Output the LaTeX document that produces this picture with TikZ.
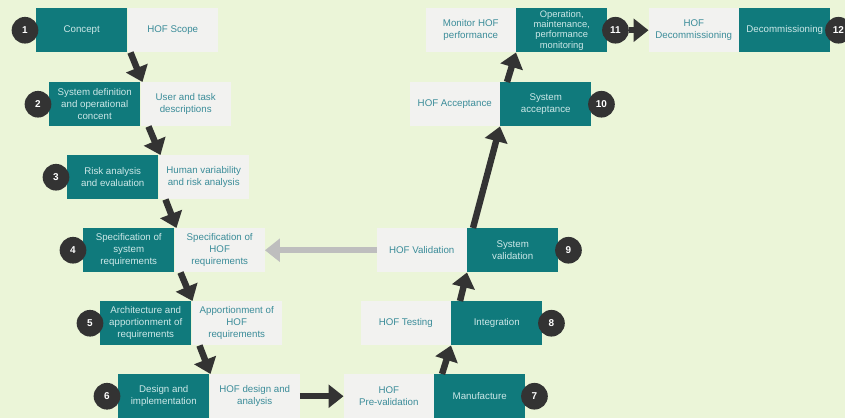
\documentclass[tikz,border=0pt]{standalone}
\usepackage{fontspec}
\setmainfont{Liberation Sans}
\usepackage{tikz}
\usetikzlibrary{calc, arrows.meta, positioning}
\definecolor{mybg}{RGB}{235, 245, 216}
\definecolor{myteal}{RGB}{16, 122, 124}
\definecolor{mytealtext}{RGB}{205, 232, 232}
\definecolor{mygray}{RGB}{242, 242, 240}
\definecolor{mygraytext}{RGB}{59, 140, 153}
\definecolor{mydark}{RGB}{51, 51, 51}
\definecolor{mylightarrow}{RGB}{190, 190, 190}
\tikzset{
  stage/.style={fill=myteal, text=mytealtext, minimum width=2.73cm, minimum height=1.32cm,
    inner sep=1pt, align=center, font=\fontsize{8.3}{10.2}\selectfont},
  hof/.style={fill=mygray, text=mygraytext, minimum width=2.7cm, minimum height=1.32cm,
    inner sep=1pt, align=center, font=\fontsize{8.3}{10.2}\selectfont},
  num/.style={circle, fill=mydark, text=white, minimum size=0.8cm, inner sep=0pt,
    font=\fontsize{8.5}{8.5}\selectfont\bfseries},
  flow/.style={mydark, line width=5.5pt, -{Triangle[length=0.45cm, width=0.68cm]}},
  back/.style={mylightarrow, line width=5.5pt, -{Triangle[length=0.45cm, width=0.68cm]}}
}
\begin{document}
\begin{tikzpicture}[x=0.03cm, y=-0.03cm]
\clip (0,0) rectangle (845,418);
\fill[mybg] (0,0) rectangle (845,418);

% left leg, going down
\node[stage, anchor=north west] (c1) at (36,8) {Concept};
\node[hof, right=0pt of c1] (h1) {HOF Scope};
\node[stage, anchor=north west] (c2) at (49,82) {System definition\\and operational\\concent};
\node[hof, right=0pt of c2] (h2) {User and task\\descriptions};
\node[stage, anchor=north west] (c3) at (67,155) {Risk analysis\\and evaluation};
\node[hof, right=0pt of c3] (h3) {Human variability\\and risk analysis};
\node[stage, anchor=north west] (c4) at (83,228) {Specification of\\system\\requirements};
\node[hof, right=0pt of c4] (h4) {Specification of\\HOF\\requirements};
\node[stage, anchor=north west] (c5) at (100,301) {Architecture and\\apportionment of\\requirements};
\node[hof, right=0pt of c5] (h5) {Apportionment of\\HOF\\requirements};
\node[stage, anchor=north west] (c6) at (118,374) {Design and\\implementation};
\node[hof, right=0pt of c6] (h6) {HOF design and\\analysis};

% right leg, going up
\node[stage, anchor=north west] (c7) at (434,374) {Manufacture};
\node[hof, left=0pt of c7] (h7) {HOF\\Pre-validation};
\node[stage, anchor=north west] (c8) at (451,301) {Integration};
\node[hof, left=0pt of c8] (h8) {HOF Testing};
\node[stage, anchor=north west] (c9) at (467,228) {System\\validation};
\node[hof, left=0pt of c9] (h9) {HOF Validation};
\node[stage, anchor=north west] (c10) at (500,82) {System\\acceptance};
\node[hof, left=0pt of c10] (h10) {HOF Acceptance};
\node[stage, anchor=north west, font=\fontsize{8}{8.8}\selectfont] (c11) at (516,8) {Operation,\\maintenance,\\performance\\monitoring};
\node[hof, left=0pt of c11] (h11) {Monitor HOF\\performance};
\node[stage, anchor=north west] (c12) at (739,8) {Decommissioning};
\node[hof, left=0pt of c12] (h12) {HOF\\Decommissioning};

% numbers
\node[num] (n1) at ($(c1.west)+(-11,0)$) {1};
\node[num] (n2) at ($(c2.west)+(-11,0)$) {2};
\node[num] (n3) at ($(c3.west)+(-11,0)$) {3};
\node[num] (n4) at ($(c4.west)+(-10,0)$) {4};
\node[num] (n5) at ($(c5.west)+(-10,0)$) {5};
\node[num] (n6) at ($(c6.west)+(-11,0)$) {6};
\node[num] (n7) at ($(c7.east)+(9,0)$) {7};
\node[num] (n8) at ($(c8.east)+(9,0)$) {8};
\node[num] (n9) at ($(c9.east)+(10,0)$) {9};
\node[num] (n10) at ($(c10.east)+(10,0)$) {10};
\node[num] (n11) at ($(c11.east)+(8,0)$) {11};
\node[num] (n12) at ($(c12.east)+(8,0)$) {12};

% arrows
\draw[flow] ($(c1.south east)+(3,0)$) -- ($(c2.north east)+(2,0)$);
\draw[flow] ($(c2.south east)+(8,0)$) -- ($(c3.north east)+(2,0)$);
\draw[flow] ($(c3.south east)+(7,0)$) -- ($(c4.north east)+(2,0)$);
\draw[flow] ($(c4.south east)+(6,0)$) -- ($(c5.north east)+(1,0)$);
\draw[flow] ($(c5.south east)+(8,0)$) -- ($(c6.north east)+(1,0)$);
\draw[flow] (h6.east) -- (h7.west);
\draw[flow] ($(c7.north west)+(8,0)$) -- (c8.south west);
\draw[flow] ($(c8.north west)+(9,0)$) -- (c9.south west);
\draw[flow] ($(c9.north west)+(6,0)$) -- (c10.south west);
\draw[flow] ($(c10.north west)+(7,0)$) -- (c11.south west);
\draw[flow] (n11.east) -- (h12.west);
\draw[back] (h9.west) -- (h4.east);
\end{tikzpicture}
\end{document}
